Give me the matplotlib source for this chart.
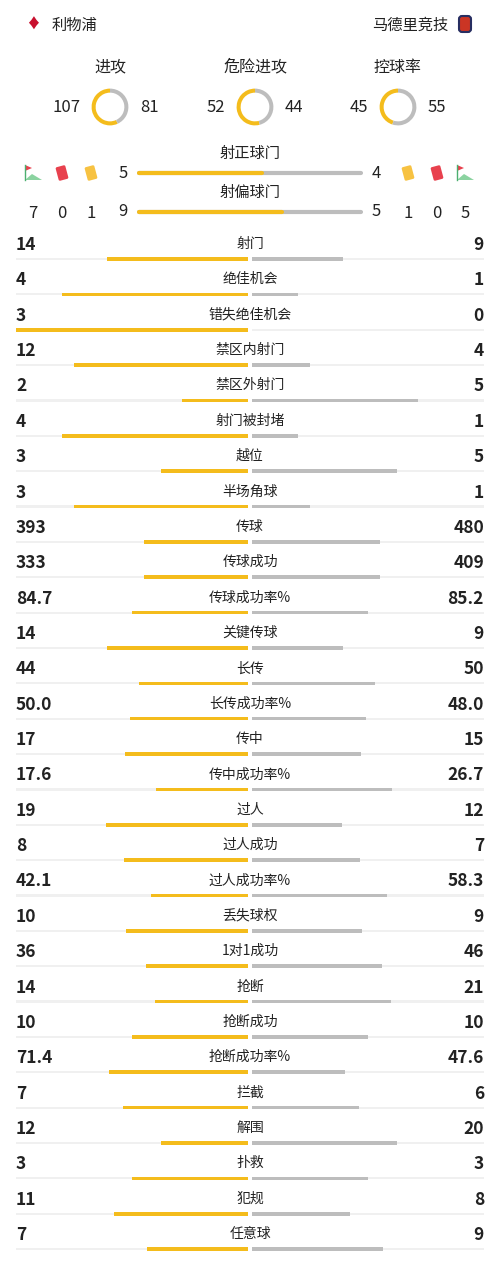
import matplotlib.pyplot as plt
from matplotlib.patches import FancyBboxPatch, Polygon
from matplotlib.transforms import Affine2D

plt.rcParams['font.family'] = ['Noto Sans CJK SC', 'DejaVu Sans']

HOME = "利物浦"
AWAY = "马德里竞技"

RING_LABELS = ["进攻", "危险进攻", "控球率"]
RING_HOME = [107, 52, 45]
RING_AWAY = [81, 44, 55]

SHOT_LABELS = ["射正球门", "射偏球门"]
SHOT_HOME = [5, 9]
SHOT_AWAY = [4, 5]
# corners, red, yellow (home) / yellow, red, corners (away)
HOME_MISC = [7, 0, 1]
AWAY_MISC = [1, 0, 5]

STATS = ["射门", "绝佳机会", "错失绝佳机会", "禁区内射门", "禁区外射门", "射门被封堵", "越位",
         "半场角球", "传球", "传球成功", "传球成功率%", "关键传球", "长传", "长传成功率%", "传中",
         "传中成功率%", "过人", "过人成功", "过人成功率%", "丢失球权", "1对1成功", "抢断", "抢断成功",
         "抢断成功率%", "拦截", "解围", "扑救", "犯规", "任意球"]
HOME_VALS = ["14", "4", "3", "12", "2", "4", "3", "3", "393", "333", "84.7", "14", "44", "50.0",
             "17", "17.6", "19", "8", "42.1", "10", "36", "14", "10", "71.4", "7", "12", "3", "11", "7"]
AWAY_VALS = ["9", "1", "0", "4", "5", "1", "5", "1", "480", "409", "85.2", "9", "50", "48.0",
             "15", "26.7", "12", "7", "58.3", "9", "46", "21", "10", "47.6", "6", "20", "3", "8", "9"]

YEL = "#F4BC1C"
GRY = "#BDBDBD"
TRK = "#F0F0F0"
TXT = "#222222"

fig = plt.figure(figsize=(5, 12.78), dpi=100)
ax = fig.add_axes([0, 0, 1, 1])
ax.set_xlim(0, 500)
ax.set_ylim(1278, 0)
ax.axis("off")

# header
ax.text(52, 25, HOME, fontsize=11, color=TXT, va="center", ha="left")
ax.text(448, 25, AWAY, fontsize=11, color=TXT, va="center", ha="right")
ax.text(33, 25, "♦", fontsize=10, color="#C8102E", ha="center", va="center")
ax.add_patch(FancyBboxPatch((459, 16), 12, 16, boxstyle="round,pad=0,rounding_size=3",
                            fc="#CB3524", ec="#272E61", lw=1.5))

# rings
for i, (lab, h, a) in enumerate(zip(RING_LABELS, RING_HOME, RING_AWAY)):
    cx = [110, 255, 398][i]
    ax.text(cx, 67, lab, fontsize=11.5, color=TXT, ha="center", va="center")
    ax.text(cx - 30, 107, str(h), fontsize=12, color=TXT, ha="right", va="center")
    ax.text(cx + 30, 107, str(a), fontsize=12, color=TXT, ha="left", va="center")
    pa = fig.add_axes([(cx - 23) / 500, 1 - (107 + 23) / 1278, 46 / 500, 46 / 1278])
    pa.pie([h, a], colors=[YEL, GRY], startangle=90, counterclock=True,
           wedgeprops=dict(width=0.22))
    pa.set_aspect("equal")

# shots on/off target
for i, (lab, h, a) in enumerate(zip(SHOT_LABELS, SHOT_HOME, SHOT_AWAY)):
    ty = [153, 192][i]
    by = ty + 20
    ax.text(250, ty, lab, fontsize=11, color=TXT, ha="center", va="center")
    ax.text(123, by, str(h), fontsize=12, color=TXT, ha="center", va="center")
    ax.text(376, by, str(a), fontsize=12, color=TXT, ha="center", va="center")
    ax.plot([139, 361], [by, by], color=GRY, lw=3, solid_capstyle="round")
    ax.plot([139, 139 + 222 * h / (h + a)], [by, by], color=YEL, lw=3, solid_capstyle="round")

for x, v in zip([33, 62, 91], HOME_MISC):
    ax.text(x, 213, str(v), fontsize=12, color=TXT, ha="center", va="center")
for x, v in zip([408, 437, 465], AWAY_MISC):
    ax.text(x, 213, str(v), fontsize=12, color=TXT, ha="center", va="center")


def card(x, y, c):
    p = FancyBboxPatch((x - 5, y - 7), 10, 14, boxstyle="round,pad=0,rounding_size=1.5",
                       fc=c, ec="none")
    p.set_transform(Affine2D().rotate_deg_around(x, y, -15) + ax.transData)
    ax.add_patch(p)


def flag(x, y):
    ax.add_patch(Polygon([[x - 8, y - 8], [x - 1, y - 5], [x - 8, y - 2]], fc="#E8414E", ec="none"))
    ax.add_patch(Polygon([[x - 8, y + 7], [x - 1, y + 1], [x + 9, y + 7]], fc="#8BD3A0", ec="none"))
    ax.plot([x - 8, x - 8], [y - 8, y + 7], color="#4CAF70", lw=1)


flag(33, 173); card(62, 173, "#E8414E"); card(91, 173, "#F7C242")
card(408, 173, "#F7C242"); card(437, 173, "#E8414E"); flag(465, 173)

# stat rows
ys = [245 + 35.36 * i for i in range(len(STATS))]
hv = [float(v) for v in HOME_VALS]
av = [float(v) for v in AWAY_VALS]
for y, lab, hs, as_, h, a in zip(ys, STATS, HOME_VALS, AWAY_VALS, hv, av):
    ax.text(16, y, hs, fontsize=12.5, fontweight="bold", color=TXT, ha="left", va="center")
    ax.text(484, y, as_, fontsize=12.5, fontweight="bold", color=TXT, ha="right", va="center")
    ax.text(250, y - 1, lab, fontsize=10, color=TXT, ha="center", va="center")
    by = y + 14
    tot = h + a if h + a > 0 else 1
    ax.barh([by, by], [232, 232], left=[16, 252], height=2.2, color=TRK)
    ax.barh([by], [-232 * h / tot], left=[248], height=3.6, color=YEL)
    ax.barh([by], [232 * a / tot], left=[252], height=3.6, color=GRY)

fig.savefig("out.png", dpi=100, facecolor="white")
